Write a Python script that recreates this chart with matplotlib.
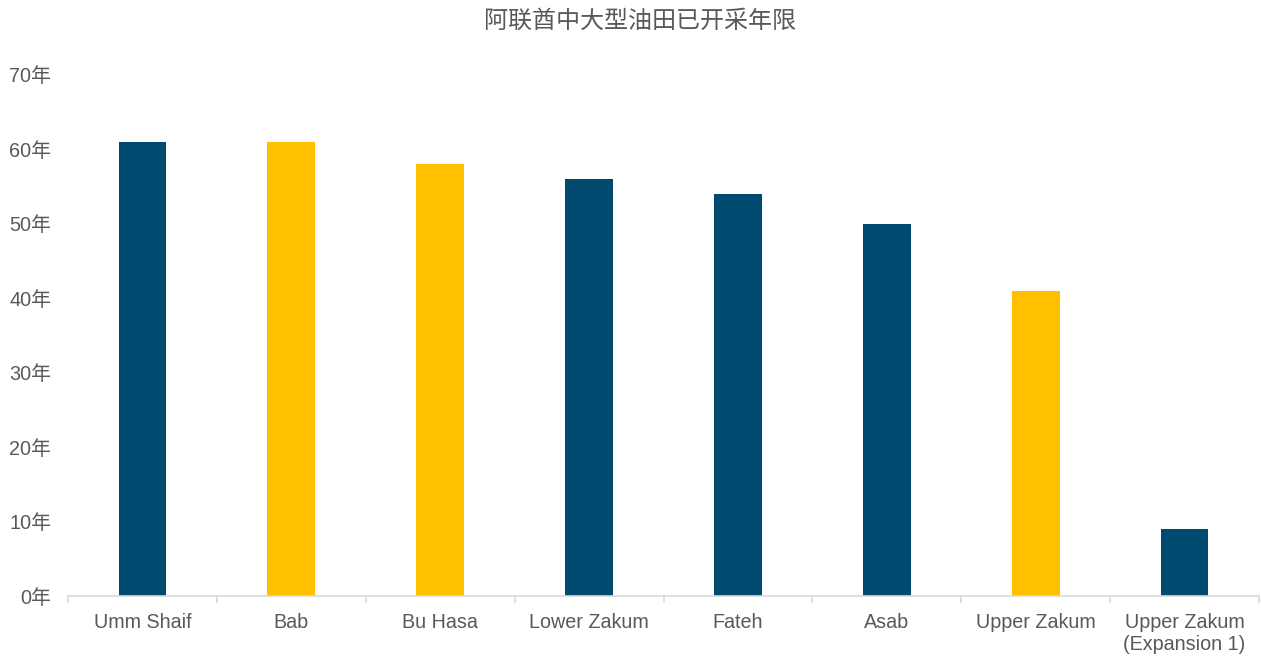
import numpy as np
import matplotlib.pyplot as plt

# data
fields = ["Umm Shaif", "Bab", "Bu Hasa", "Lower Zakum", "Fateh", "Asab",
          "Upper Zakum", "Upper Zakum\n(Expansion 1)"]
years = [61, 61, 58, 56, 54, 50, 41, 9]
bar_colors = ["#004A6F", "#FFC000", "#FFC000", "#004A6F", "#004A6F", "#004A6F",
              "#FFC000", "#004A6F"]
yticks = [0, 10, 20, 30, 40, 50, 60, 70]
ytick_labels = [f"{v}年" for v in yticks]

plt.rcParams['font.family'] = ['Liberation Sans', 'Noto Sans CJK SC', 'DejaVu Sans']
txt = "#595959"

fig = plt.figure(figsize=(12.61, 6.57), dpi=100)
ax = fig.add_axes([68 / 1261, 61 / 657, (1259 - 68) / 1261, (596 - 75) / 657])

x = np.arange(len(fields))
ax.bar(x, years, width=0.32, color=bar_colors, zorder=2)

ax.set_xlim(-0.5, len(fields) - 0.5)
ax.set_ylim(0, 70)
ax.set_yticks(yticks)
ax.set_yticklabels(ytick_labels, fontsize=14.3, color=txt)
ax.tick_params(axis='y', length=0, pad=12)

ax.set_xticks(x)
ax.set_xticklabels(fields, fontsize=14.2, color=txt, linespacing=1.2)
ax.set_xticks(np.arange(-0.5, len(fields)), minor=True)
ax.tick_params(axis='x', which='major', length=0, pad=12)
ax.tick_params(axis='x', which='minor', length=5, color="#D9D9D9", width=1.2)

for s in ['top', 'right', 'left']:
    ax.spines[s].set_visible(False)
ax.spines['bottom'].set_color("#D9D9D9")
ax.spines['bottom'].set_linewidth(1.2)

fig.text(640 / 1261, 1 - 21 / 657, "阿联酋中大型油田已开采年限", ha='center', va='center',
         fontsize=17.3, color=txt)

fig.savefig("out.png", dpi=100)
